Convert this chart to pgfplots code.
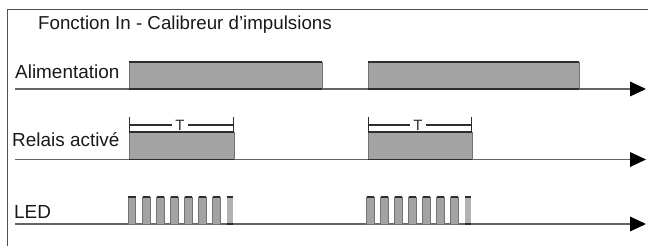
\documentclass[border=0pt]{standalone}
\usepackage{pgfplots}
\pgfplotsset{compat=1.18}
\usepackage{fontspec}
\setmainfont{Liberation Sans}
\definecolor{barfill}{RGB}{163,163,163}
\definecolor{lastfill}{RGB}{178,178,178}
\definecolor{edgedark}{RGB}{45,45,45}
\definecolor{sidegray}{RGB}{115,115,115}
\definecolor{linegray}{RGB}{100,100,100}
\definecolor{framegray}{RGB}{80,80,80}
\begin{document}
\begin{tikzpicture}
\useasboundingbox (0,0) rectangle (648bp,246bp);
\begin{axis}[at={(0,0)}, anchor=south west, width=648bp, height=246bp, scale only axis,
  xmin=0, xmax=648, ymin=0, ymax=246, hide axis, clip=false,
  unbounded coords=jump]
% frame
\addplot[framegray, line width=1.5bp, mark=none] coordinates {(7.5,0) (7.5,236.5) (648,236.5)};
% --- Alimentation ---
\addplot[fill=barfill, draw=sidegray, line width=0.6bp, mark=none] coordinates {(129,157) (322,157) (322,184) (129,184)} --cycle;
\addplot[fill=barfill, draw=sidegray, line width=0.6bp, mark=none] coordinates {(368,157) (579,157) (579,184) (368,184)} --cycle;
\addplot[edgedark, line width=1.5bp, mark=none] coordinates {(129,184) (322,184) (nan,nan) (368,184) (579,184)};
\addplot[linegray, line width=1.4bp, mark=none] coordinates {(15,157) (631,157)};
\addplot[edgedark, line width=1.5bp, mark=none] coordinates {(129,157) (322,157) (nan,nan) (368,157) (579,157)};
\addplot[fill=black, draw=none, mark=none] coordinates {(630,149.5) (646,157) (630,164.5)} --cycle;
% --- Relais ---
\addplot[fill=barfill, draw=sidegray, line width=0.6bp, mark=none] coordinates {(129,86.5) (234,86.5) (234,114) (129,114)} --cycle;
\addplot[fill=barfill, draw=sidegray, line width=0.6bp, mark=none] coordinates {(368,86.5) (472,86.5) (472,114) (368,114)} --cycle;
\addplot[edgedark, line width=1.5bp, mark=none] coordinates {(129,114) (234,114) (nan,nan) (368,114) (472,114)};
\addplot[linegray, line width=1.4bp, mark=none] coordinates {(15,86.5) (631,86.5)};
\addplot[edgedark, line width=1.5bp, mark=none] coordinates {(129,86.5) (234,86.5) (nan,nan) (368,86.5) (472,86.5)};
\addplot[fill=black, draw=none, mark=none] coordinates {(630,79) (646,86.5) (630,94)} --cycle;
% T brackets
\addplot[edgedark, line width=1bp, mark=none] coordinates {(129.5,114) (129.5,128.5) (nan,nan) (233.5,114) (233.5,128.5) (nan,nan) (368.5,114) (368.5,128.5) (nan,nan) (471.5,114) (471.5,128.5)};
\addplot[edgedark, line width=1.2bp, mark=none] coordinates {(129.5,121) (172,121) (nan,nan) (188,121) (233.5,121) (nan,nan) (368.5,121) (410,121) (nan,nan) (426,121) (471.5,121)};
\node[anchor=base, inner sep=0pt, font=\fontsize{15}{17}\selectfont, text=edgedark] at (axis cs:180,115) {T};
\node[anchor=base, inner sep=0pt, font=\fontsize{15}{17}\selectfont, text=edgedark] at (axis cs:418,115) {T};
% --- LED ---
\addplot[linegray, line width=1.4bp, mark=none] coordinates {(15,22) (631,22)};
\addplot[fill=barfill, draw=sidegray, line width=0.8bp, mark=none] coordinates {
 (128.3,22) (128.3,49) (135.8,49) (135.8,22)
 (142.7,22) (142.7,49) (150.2,49) (150.2,22)
 (156.7,22) (156.7,49) (164.2,49) (164.2,22)
 (170.7,22) (170.7,49) (178.2,49) (178.2,22)
 (184.5,22) (184.5,49) (192.0,49) (192.0,22)
 (198.5,22) (198.5,49) (206.0,49) (206.0,22)
 (212.7,22) (212.7,49) (220.2,49) (220.2,22)} --cycle;
\addplot[fill=barfill, draw=sidegray, line width=0.8bp, mark=none] coordinates {
 (366.7,22) (366.7,49) (374.2,49) (374.2,22)
 (380.7,22) (380.7,49) (388.2,49) (388.2,22)
 (394.5,22) (394.5,49) (402.0,49) (402.0,22)
 (408.5,22) (408.5,49) (416.0,49) (416.0,22)
 (422.5,22) (422.5,49) (430.0,49) (430.0,22)
 (436.5,22) (436.5,49) (444.0,49) (444.0,22)
 (450.5,22) (450.5,49) (458.0,49) (458.0,22)} --cycle;
\addplot[fill=lastfill, draw=none, mark=none] coordinates {(226.7,22) (233.3,22) (233.3,49) (226.7,49)} --cycle;
\addplot[fill=lastfill, draw=none, mark=none] coordinates {(464.5,22) (471,22) (471,49) (464.5,49)} --cycle;
\addplot[edgedark, line width=1.5bp, mark=none] coordinates {
 (128.3,49) (135.8,49) (nan,nan) (142.7,49) (150.2,49) (nan,nan) (156.7,49) (164.2,49) (nan,nan)
 (170.7,49) (178.2,49) (nan,nan) (184.5,49) (192.0,49) (nan,nan) (198.5,49) (206.0,49) (nan,nan)
 (212.7,49) (220.2,49) (nan,nan) (226.7,49) (233.3,49) (nan,nan)
 (366.7,49) (374.2,49) (nan,nan) (380.7,49) (388.2,49) (nan,nan) (394.5,49) (402.0,49) (nan,nan)
 (408.5,49) (416.0,49) (nan,nan) (422.5,49) (430.0,49) (nan,nan) (436.5,49) (444.0,49) (nan,nan)
 (450.5,49) (458.0,49) (nan,nan) (464.5,49) (471,49)};
\addplot[edgedark, line width=1.8bp, mark=none] coordinates {(226.7,22) (233.3,22) (nan,nan) (464.5,22) (471,22)};
\addplot[fill=black, draw=none, mark=none] coordinates {(630,14.5) (646,22) (630,29.5)} --cycle;
% --- texts ---
\node[anchor=base west, inner sep=0pt, font=\fontsize{18.8}{21}\selectfont, text=black!90] at (axis cs:38,216) {Fonction In - Calibreur d’impulsions};
\node[anchor=base west, inner sep=0pt, font=\fontsize{19}{21}\selectfont, text=black!90] at (axis cs:15,167) {Alimentation};
\node[anchor=base west, inner sep=0pt, font=\fontsize{19}{21}\selectfont, text=black!90] at (axis cs:12,99) {Relais activé};
\node[anchor=base west, inner sep=0pt, font=\fontsize{19}{21}\selectfont, text=black!90] at (axis cs:14,27.5) {LED};
\end{axis}
\end{tikzpicture}
\end{document}
